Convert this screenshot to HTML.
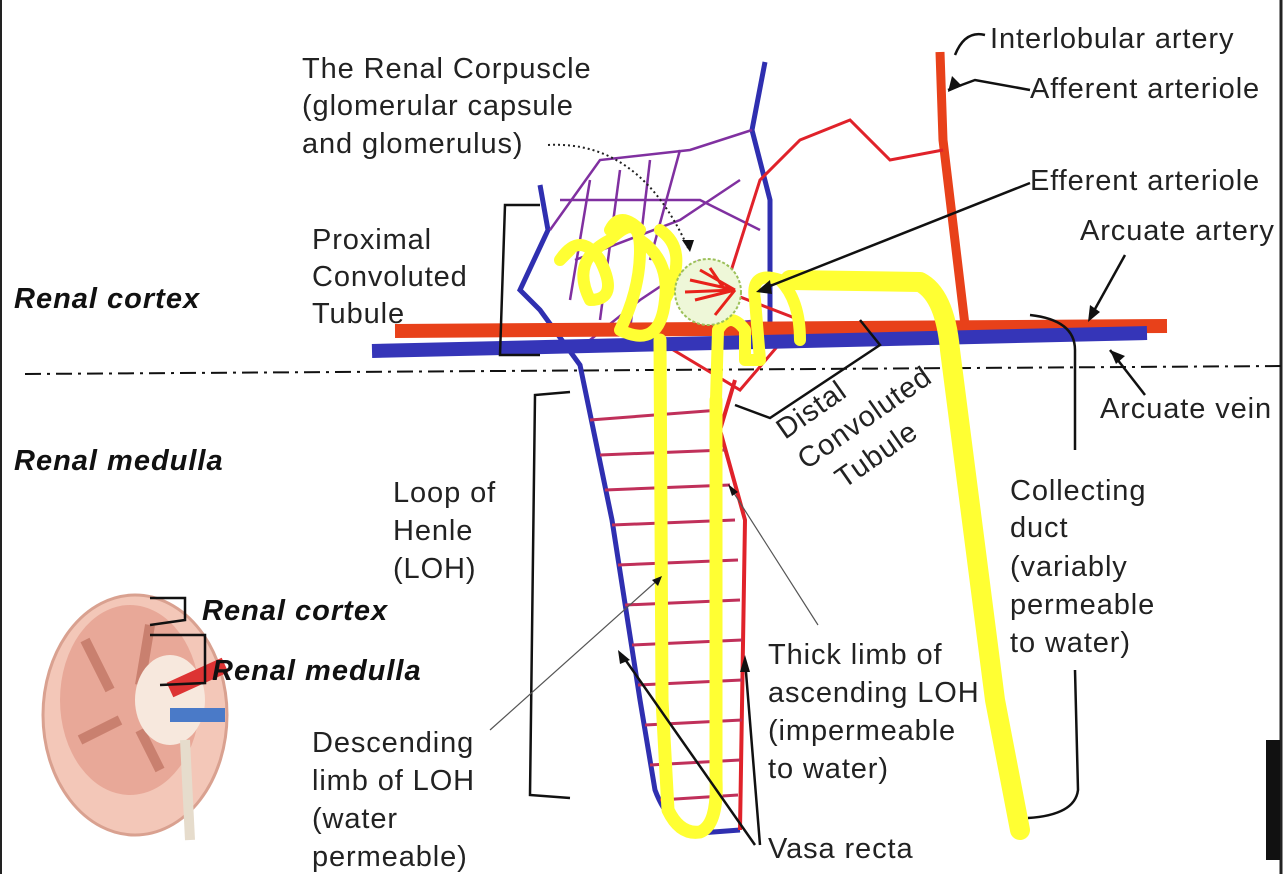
<!DOCTYPE html>
<html><head><style>
html,body{margin:0;padding:0;background:#fff}
svg{display:block}
text{font-family:"Liberation Sans",sans-serif;font-size:29px;letter-spacing:0.9px;fill:#222}
.b{font-weight:bold;font-style:italic;fill:#111;letter-spacing:1px}
</style></head><body>
<svg width="1284" height="874" viewBox="0 0 1284 874">
<rect width="1284" height="874" fill="#fff"/>
<line x1="1" y1="0" x2="1" y2="874" stroke="#222" stroke-width="2"/>
<line x1="1281" y1="0" x2="1281" y2="874" stroke="#222" stroke-width="3"/>
<rect x="1266" y="740" width="14" height="120" fill="#111"/>

<g>
<ellipse cx="135" cy="715" rx="92" ry="120" fill="#f3c7b8" stroke="#d9a190" stroke-width="3"/>
<ellipse cx="130" cy="700" rx="70" ry="95" fill="#e8a898"/>
<path d="M85 640 l25 50 M150 625 l-10 60 M80 740 l40 -20 M160 770 l-20 -40" stroke="#c9806f" stroke-width="10"/>
<ellipse cx="170" cy="700" rx="35" ry="45" fill="#f7e8dd"/>
<path d="M170 690 l55 -25" stroke="#d33" stroke-width="16"/>
<path d="M170 715 l55 0" stroke="#4a7ac8" stroke-width="14"/>
<path d="M185 740 l5 100" stroke="#e6dccc" stroke-width="10"/>
</g>

<line x1="25" y1="374" x2="1284" y2="366" stroke="#111" stroke-width="2" stroke-dasharray="16,6,3,6"/>

<path d="M540 185 L548 230 L520 290 L540 310 L580 365 L612 520 L640 700 L655 790 Q670 830 700 833 L740 830" fill="none" stroke="#2f2fb0" stroke-width="5"/>
<path d="M765 62 L752 130 L770 200 L770 340" fill="none" stroke="#2f2fb0" stroke-width="5"/>
<path d="M740 830 L745 520 L720 430 L735 380" fill="none" stroke="#e0222a" stroke-width="4"/>
<g stroke="#c0305a" stroke-width="3" fill="none">
<path d="M590 420 L720 410"/><path d="M600 455 L725 450"/><path d="M605 490 L730 485"/>
<path d="M612 525 L735 520"/><path d="M618 565 L738 560"/><path d="M625 605 L740 600"/>
<path d="M632 645 L742 640"/><path d="M638 685 L742 680"/><path d="M645 725 L742 720"/>
<path d="M650 765 L740 760"/><path d="M660 800 L738 795"/>
</g>
<g stroke="#8030a0" stroke-width="2.5" fill="none">
<path d="M550 230 L600 160 L690 150 L752 130"/><path d="M570 300 L590 180"/><path d="M600 320 L620 170"/>
<path d="M630 330 L650 160"/><path d="M650 260 L680 150"/><path d="M575 260 L680 220 L740 180"/>
<path d="M590 340 L640 300 L700 260"/><path d="M560 200 L700 200 L760 230"/><path d="M670 330 L760 320"/>
</g>
<path d="M940 52 L943 140 L965 325" fill="none" stroke="#e8411a" stroke-width="9"/>
<path d="M943 150 L890 160 L850 120 L800 140 L760 180 L725 290" fill="none" stroke="#e0222a" stroke-width="3"/>
<path d="M735 295 L800 320 L740 390 L640 330" fill="none" stroke="#e0222a" stroke-width="3"/>

<line x1="395" y1="331" x2="1167" y2="326" stroke="#e8411a" stroke-width="14"/>
<line x1="372" y1="351" x2="1147" y2="333" stroke="#3535b8" stroke-width="14"/>

<g fill="none" stroke="#ffff33" stroke-linecap="round" stroke-linejoin="round">
<path d="M660 340 L662 700 L668 810 Q680 835 700 832 Q718 825 716 780 L716 400" stroke-width="13"/>
<path d="M560 260 Q580 230 600 260 Q620 300 590 300 Q570 260 610 240 Q640 210 640 250 Q640 290 620 330 Q660 350 665 300 Q670 260 640 240 M610 230 Q620 210 640 230 M560 260 L570 250 M665 300 Q690 250 660 230" stroke-width="12"/>
<path d="M716 400 L718 330 Q730 310 745 330 L745 360 L760 360 L755 300 Q750 270 780 280 Q800 300 800 340" stroke-width="12"/>
<path d="M790 280 L920 282 Q945 295 950 350 L995 700 L1020 830" stroke-width="20"/>
</g>

<circle cx="708" cy="292" r="33" fill="#eef7d8" stroke="#9cc05a" stroke-width="2" stroke-dasharray="3,2"/>
<g stroke="#e8221a" stroke-width="3" fill="none">
<path d="M690 280 L735 290 M695 300 L735 290 M700 270 L735 290 M715 315 L735 290 M685 292 L735 290 M710 268 L725 290"/>
</g>

<g fill="none" stroke="#111" stroke-width="2.5">
<path d="M540 205 L505 205 L500 355 L540 355"/>
<path d="M570 392 L535 395 L530 795 L570 798"/>
<path d="M1030 315 Q1075 320 1075 350 L1075 450 M1075 670 L1078 790 Q1075 815 1028 818"/>
<path d="M735 405 L770 418 L880 345 L860 320"/>
<path d="M955 55 Q965 30 985 35"/>
<path d="M948 90 L975 80 L1030 90"/>
<path d="M760 290 L1030 183"/>
<path d="M1090 318 L1125 255"/>
<path d="M1110 350 L1145 395"/>
<path d="M622 655 L755 845 M745 660 L760 845"/>
</g>
<g fill="#111">
<polygon points="948,92 952,76 962,86"/>
<polygon points="756,292 770,280 772,294"/>
<polygon points="1088,322 1090,305 1100,312"/>
<polygon points="1110,350 1125,356 1116,364"/>
<polygon points="618,650 630,660 620,664"/>
<polygon points="745,655 750,672 740,672"/>
</g>
<path d="M548 145 Q640 140 688 248" fill="none" stroke="#222" stroke-width="2" stroke-dasharray="2,3"/>
<polygon points="690,252 682,240 694,240" fill="#111"/>
<line x1="490" y1="730" x2="660" y2="578" stroke="#555" stroke-width="1.2"/>
<polygon points="662,576 652,580 658,586" fill="#111"/>
<line x1="818" y1="625" x2="730" y2="487" stroke="#555" stroke-width="1.2"/>
<polygon points="728,484 732,496 738,492" fill="#111"/>

<text x="302" y="78">The Renal Corpuscle</text>
<text x="302" y="115">(glomerular capsule</text>
<text x="302" y="153">and glomerulus)</text>
<text x="990" y="48">Interlobular artery</text>
<text x="1030" y="98">Afferent arteriole</text>
<text x="1030" y="190">Efferent arteriole</text>
<text x="1080" y="240">Arcuate artery</text>
<text x="312" y="249">Proximal</text>
<text x="312" y="286">Convoluted</text>
<text x="312" y="323">Tubule</text>
<text class="b" x="14" y="308">Renal cortex</text>
<text x="1100" y="418">Arcuate vein</text>
<text class="b" x="14" y="470">Renal medulla</text>
<g transform="translate(785,440) rotate(-35)">
<text x="0" y="0">Distal</text>
<text x="0" y="37">Convoluted</text>
<text x="20" y="74">Tubule</text>
</g>
<text x="393" y="502">Loop of</text>
<text x="393" y="540">Henle</text>
<text x="393" y="578">(LOH)</text>
<text x="1010" y="500">Collecting</text>
<text x="1010" y="537">duct</text>
<text x="1010" y="576">(variably</text>
<text x="1010" y="614">permeable</text>
<text x="1010" y="652">to water)</text>
<text class="b" x="202" y="620">Renal cortex</text>
<text class="b" x="212" y="680">Renal medulla</text>
<path d="M150 598 L185 598 L185 620 L150 625 M150 635 L205 635 L205 683 L160 685" fill="none" stroke="#111" stroke-width="2.5"/>
<text x="768" y="664">Thick limb of</text>
<text x="768" y="702">ascending LOH</text>
<text x="768" y="740">(impermeable</text>
<text x="768" y="778">to water)</text>
<text x="312" y="752">Descending</text>
<text x="312" y="790">limb of LOH</text>
<text x="312" y="828">(water</text>
<text x="312" y="866">permeable)</text>
<text x="768" y="858">Vasa recta</text>
</svg>
</body></html>
